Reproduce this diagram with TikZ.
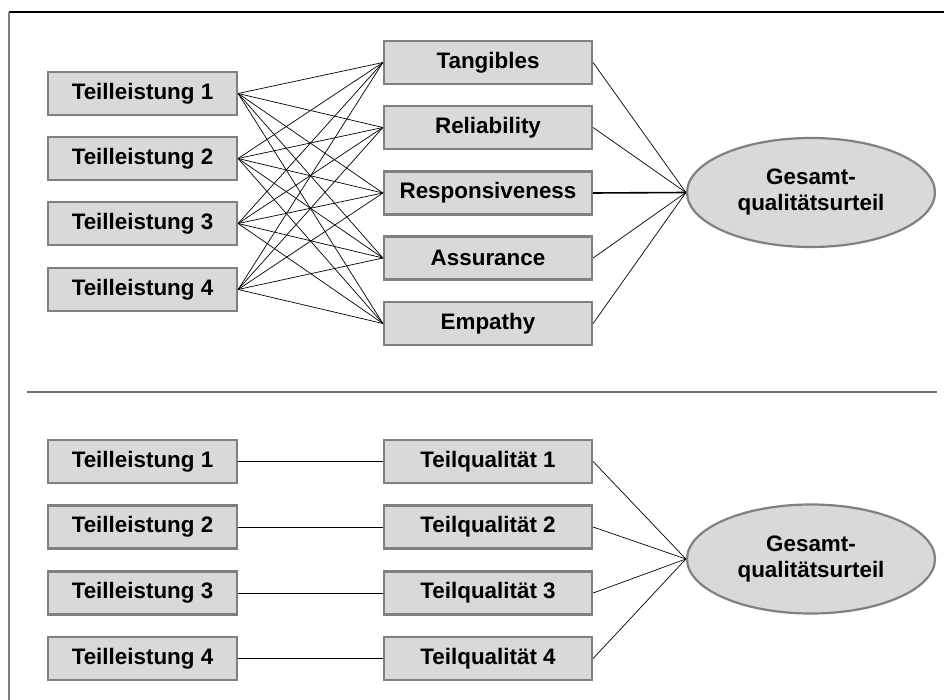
\documentclass[tikz,border=0pt]{standalone}
\usepackage{fontspec}
\setmainfont{Liberation Sans}
\usetikzlibrary{shapes.geometric}
\definecolor{boxfill}{HTML}{D9D9D9}
\definecolor{boxline}{HTML}{808080}
\definecolor{rulegray}{HTML}{6E6E6E}
\begin{document}
\begin{tikzpicture}[x=1pt,y=-1pt,
  lbl/.style={font=\fontsize{22.4}{26}\selectfont\bfseries, text=black},
  leftbox/.style={lbl, rectangle, draw=boxline, fill=boxfill, line width=2.2pt,
    minimum width=189pt, minimum height=43pt, inner sep=0pt},
  midbox/.style={leftbox, minimum width=208pt},
  judge/.style={lbl, ellipse, draw=boxline, fill=boxfill, line width=2.2pt,
    minimum width=248pt, minimum height=109pt, inner sep=0pt, align=center},
  link/.style={draw=black, line width=0.7pt}]
\useasboundingbox (0,0) rectangle (944,700);

% frame and separator
\draw[black, line width=1.5pt] (9,12) -- (944,12);
\draw[boxline, line width=1.5pt] (9,12) -- (9,700);
\draw[rulegray, line width=1.5pt] (27,392) -- (937,392);

% upper model: partial performances -> SERVQUAL dimensions -> overall judgement
\node[leftbox] (a1) at (142.5,93.5)  {Teilleistung 1};
\node[leftbox] (a2) at (142.5,158.5) {Teilleistung 2};
\node[leftbox] (a3) at (142.5,223.5) {Teilleistung 3};
\node[leftbox] (a4) at (142.5,289.5) {Teilleistung 4};

\node[midbox] (d1) at (488,62.5)  {Tangibles};
\node[midbox] (d2) at (488,127.5) {Reliability};
\node[midbox] (d3) at (488,193)   {Responsiveness};
\node[midbox] (d4) at (488,258)   {Assurance};
\node[midbox] (d5) at (488,323.5) {Empathy};

\node[judge] (g1) at (811,192.5) {Gesamt-\\qualitätsurteil};

\foreach \i in {1,...,4}
  \foreach \j in {1,...,5}
    \draw[link] (a\i.east) -- (d\j.west);
\foreach \j in {1,2,4,5}
  \draw[link] (d\j.east) -- (g1.west);
\draw[link, line width=1.6pt] (d3.east) -- (g1.west);

% lower model: partial performances -> partial qualities -> overall judgement
\node[leftbox] (b1) at (142.5,461.5) {Teilleistung 1};
\node[leftbox] (b2) at (142.5,527)   {Teilleistung 2};
\node[leftbox] (b3) at (142.5,593)   {Teilleistung 3};
\node[leftbox] (b4) at (142.5,658.5) {Teilleistung 4};

\node[midbox] (q1) at (488,461.5) {Teilqualität 1};
\node[midbox] (q2) at (488,527)   {Teilqualität 2};
\node[midbox] (q3) at (488,593)   {Teilqualität 3};
\node[midbox] (q4) at (488,658.5) {Teilqualität 4};

\node[judge] (g2) at (811,559) {Gesamt-\\qualitätsurteil};

\foreach \i in {1,...,4} {
  \draw[link] (b\i.east) -- (q\i.west);
  \draw[link] (q\i.east) -- (g2.west);
}
\end{tikzpicture}
\end{document}
